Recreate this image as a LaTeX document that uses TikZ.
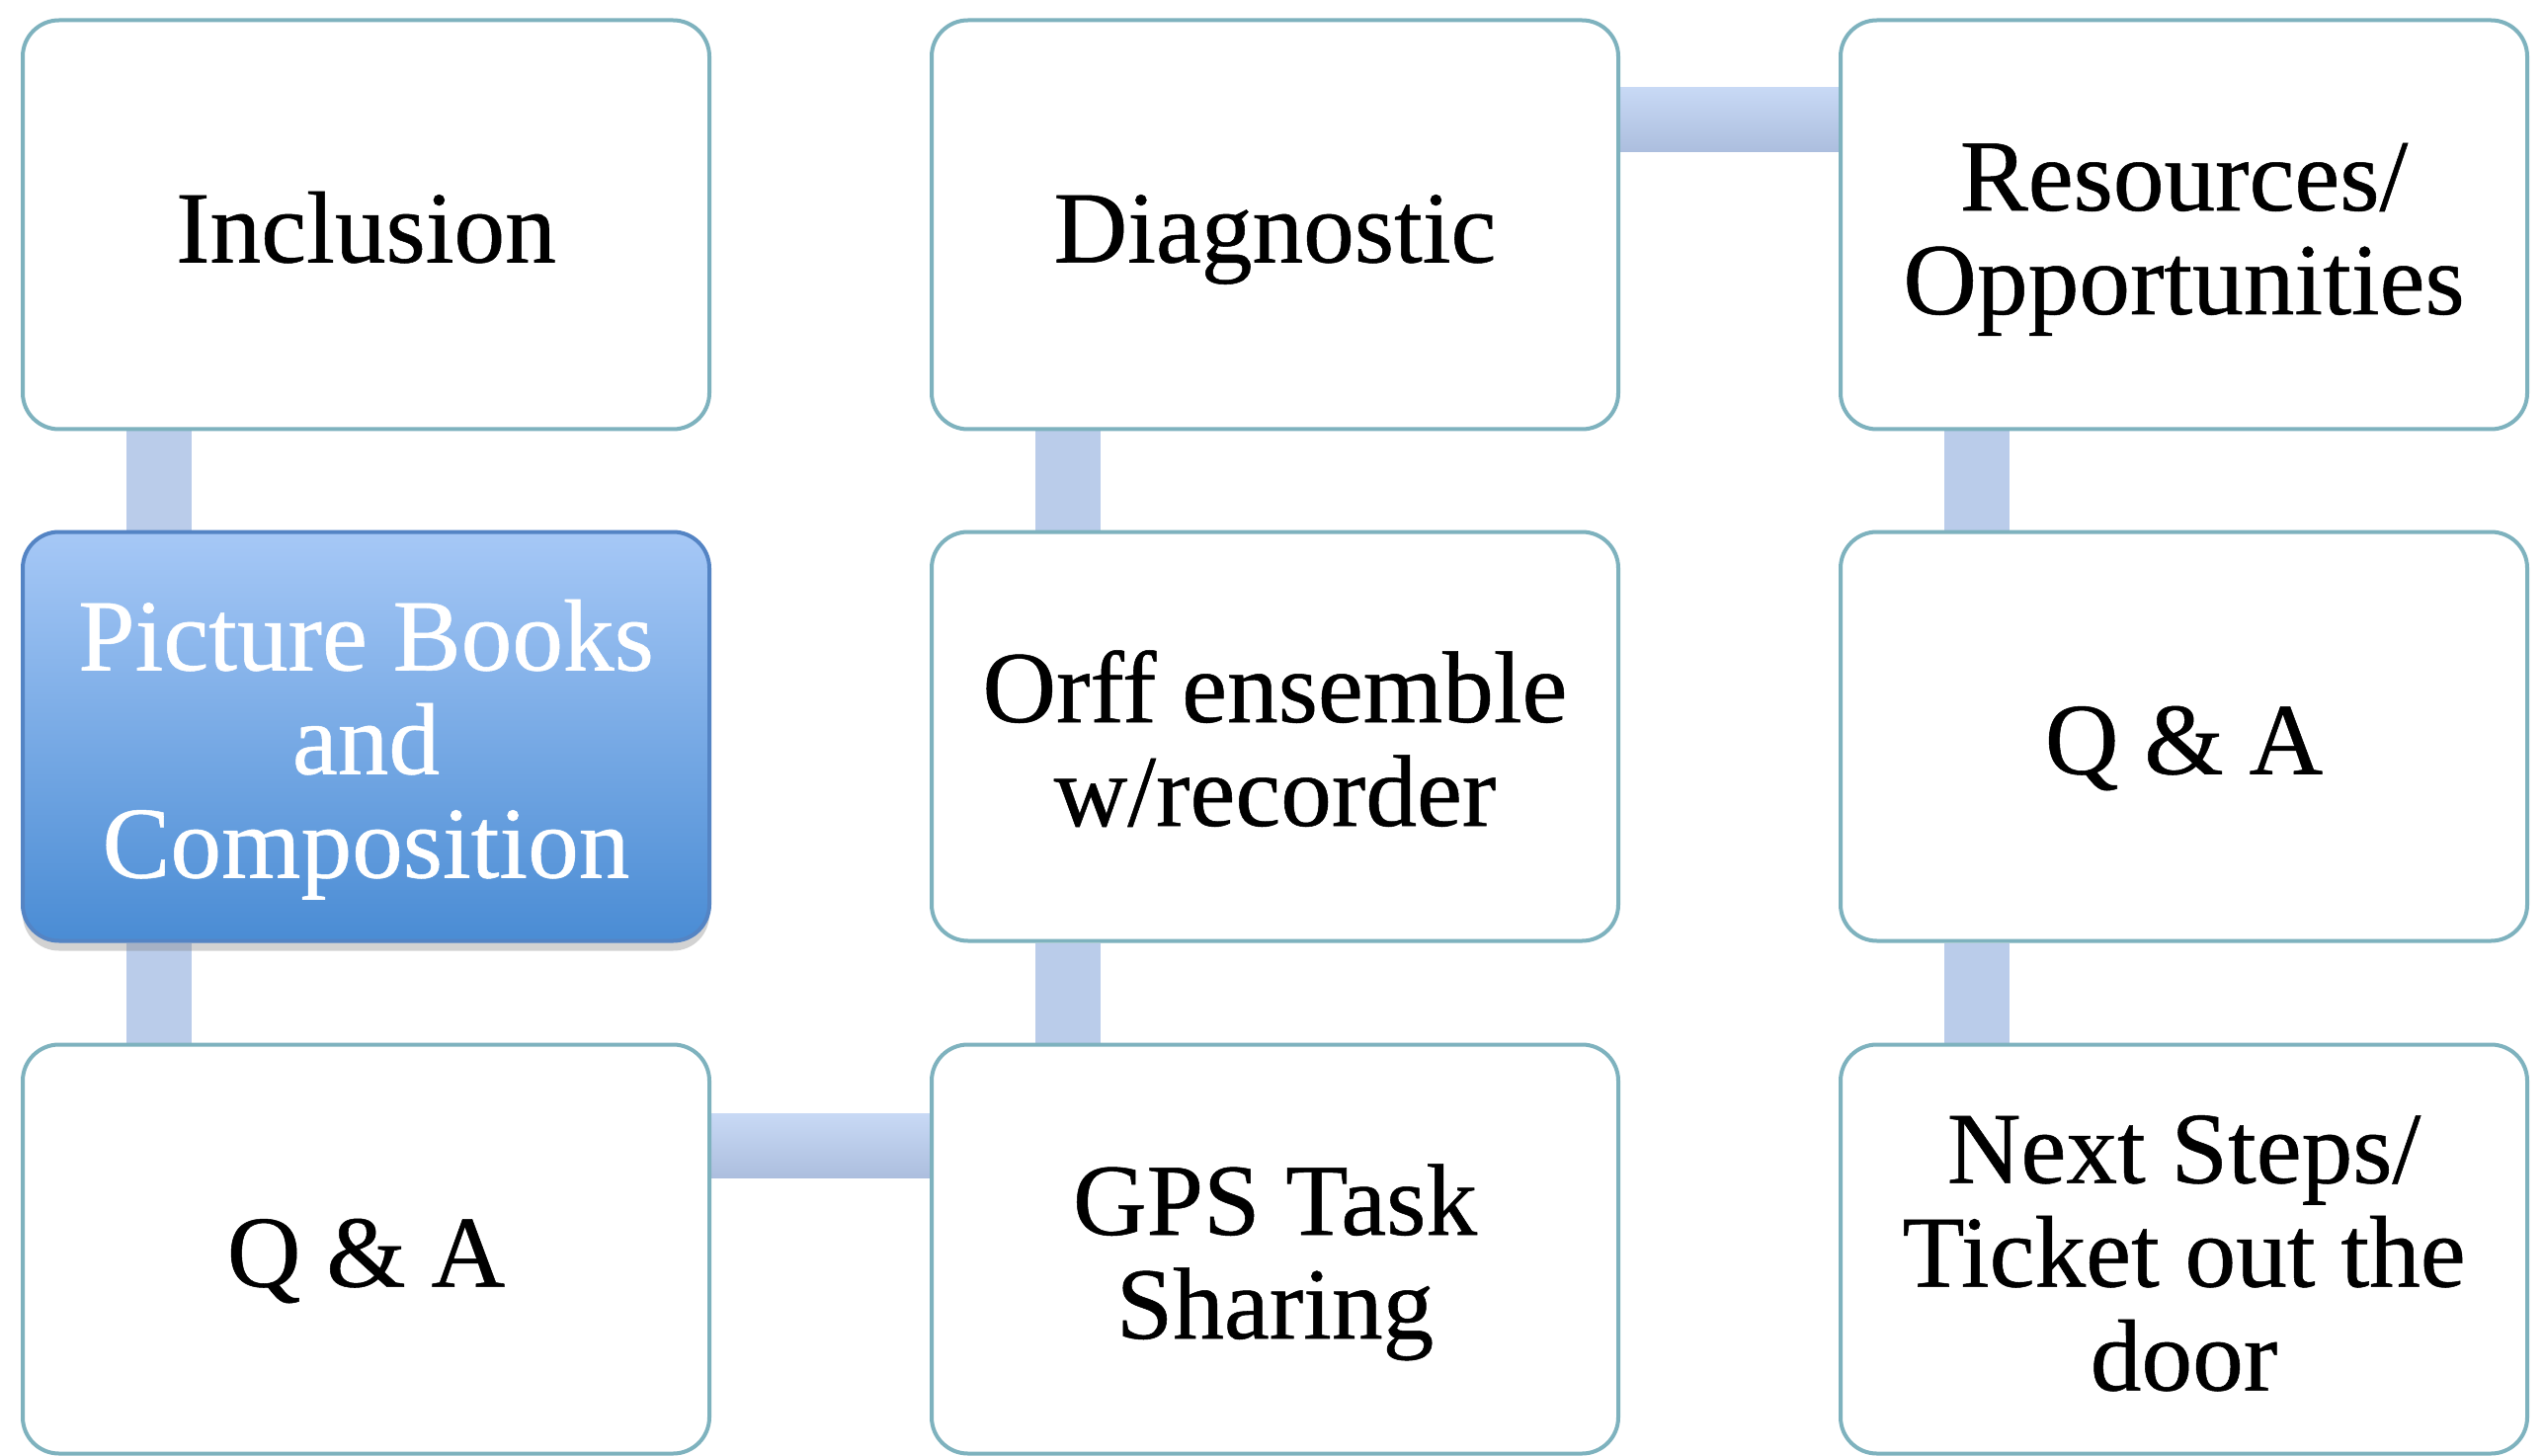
\documentclass[tikz,border=0pt]{standalone}
\usepackage{fontspec}
\setmainfont{Liberation Serif}
\usetikzlibrary{calc,backgrounds,shadows}

\definecolor{boxline}{RGB}{126,178,190}
\definecolor{barfill}{RGB}{186,204,234}
\definecolor{bartop}{RGB}{200,217,245}
\definecolor{barbot}{RGB}{172,190,222}
\definecolor{hitop}{RGB}{166,200,246}
\definecolor{hibot}{RGB}{74,140,212}
\definecolor{hiline}{RGB}{84,132,196}

% centred lines, set a little below the middle of the box
\newcommand\stagetext[1]{\begin{tabular}{@{}c@{}}\rule{0pt}{32.25pt}#1\end{tabular}}

\tikzset{
  stagebox/.style={draw=boxline, line width=1.2pt, fill=white,
    rounded corners=11pt, minimum width=208.5pt, minimum height=124.2pt,
    inner sep=0pt,
    font={\addfontfeatures{FakeBold=0.5}\fontsize{31}{31.5}\selectfont}},
  focusbox/.style={stagebox, draw=hiline, top color=hitop, bottom color=hibot,
    text=white, drop shadow={shadow xshift=0pt, shadow yshift=-3pt, opacity=0.35}},
  vbar/.style={fill=barfill, draw=none},
  hbar/.style={top color=bartop, bottom color=barbot, draw=none},
}

\begin{document}
\begin{tikzpicture}[x=0.3pt, y=-0.3pt]
  \useasboundingbox (0,0) rectangle (2575,1474);

  % column 1
  \node[stagebox] (inc)  at (370.5, 227.5)  {\stagetext{Inclusion}};
  \node[focusbox] (pic)  at (370.5, 745.5)  {\stagetext{Picture Books\\and\\Composition}};
  \node[stagebox] (qa1)  at (370.5, 1264.5) {\stagetext{Q \& A}};
  % column 2
  \node[stagebox] (diag) at (1290.5, 227.5)  {\stagetext{Diagnostic}};
  \node[stagebox] (orff) at (1290.5, 745.5)  {\stagetext{Orff ensemble\\w/recorder}};
  \node[stagebox] (gps)  at (1290.5, 1264.5) {\stagetext{GPS Task\\Sharing}};
  % column 3
  \node[stagebox] (res)  at (2210.5, 227.5)  {\stagetext{Resources/\\Opportunities}};
  \node[stagebox] (qa2)  at (2210.5, 745.5)  {\stagetext{Q \& A}};
  \node[stagebox] (next) at (2210.5, 1264.5) {\stagetext{Next Steps/\\Ticket out the\\door}};

  % white page and connecting bars behind the boxes
  \begin{scope}[on background layer]
    \fill[white] (0,0) rectangle (2575,1474);
    \path[vbar] ($(inc.south west)+(107,0)$)  rectangle ($(pic.north west)+(173,0)$);
    \path[vbar] ($(pic.south west)+(107,0)$)  rectangle ($(qa1.north west)+(173,0)$);
    \path[hbar] ($(qa1.north east)+(0,72)$)   rectangle ($(gps.north west)+(0,137)$);
    \path[vbar] ($(gps.north west)+(107,0)$)  rectangle ($(orff.south west)+(173,0)$);
    \path[vbar] ($(orff.north west)+(107,0)$) rectangle ($(diag.south west)+(173,0)$);
    \path[hbar] ($(diag.north east)+(0,70)$)  rectangle ($(res.north west)+(0,135)$);
    \path[vbar] ($(res.south west)+(107,0)$)  rectangle ($(qa2.north west)+(173,0)$);
    \path[vbar] ($(qa2.south west)+(107,0)$)  rectangle ($(next.north west)+(173,0)$);
  \end{scope}
\end{tikzpicture}
\end{document}
